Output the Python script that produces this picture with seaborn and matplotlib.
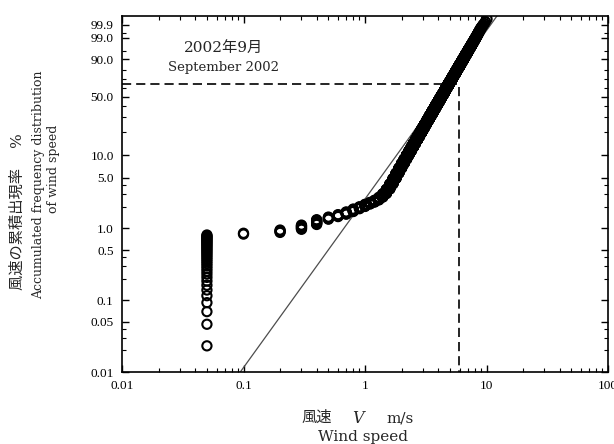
import numpy as np
import pandas as pd
import matplotlib
matplotlib.use("Agg")
import matplotlib.pyplot as plt
import matplotlib.ticker as mticker
import seaborn as sns

# 10分平均風速 2002年9月 : 風速階級ごとの出現回数
calm_speed = 0.05
calm_count = 35
bin_speeds = np.round(np.arange(1, 102) * 0.1, 1)   # 0.1 ... 10.1 m/s
bin_counts = [
    2, 4, 7, 9, 5, 5, 6, 7, 6, 7,            # 0.1 - 1.0
    6, 7, 10, 14, 20, 27, 33, 38, 42, 45,    # 1.1 - 2.0
    48, 53, 56, 60, 64, 68, 71, 75, 79, 82,  # 2.1 - 3.0
    85, 88, 91, 93, 95, 97, 99, 101, 101, 102,   # 3.1 - 4.0
    103, 102, 102, 102, 101, 100, 98, 96, 94, 92,  # 4.1 - 5.0
    90, 87, 84, 80, 77, 75, 71, 67, 63, 60,  # 5.1 - 6.0
    57, 53, 49, 46, 43, 40, 36, 33, 31, 28,  # 6.1 - 7.0
    25, 23, 21, 18, 16, 15, 13, 12, 10, 9,   # 7.1 - 8.0
    8, 7, 6, 5, 5, 4, 3, 3, 2, 2,            # 8.1 - 9.0
    1, 1, 1, 1, 0, 1, 0, 1, 0, 0,            # 9.1 - 10.0
    1,                                       # 10.1
]

# ワイブル近似直線
fit_k = 2.35
fit_c = 4.74

# 破線の位置
mark_speed = 5.9
mark_percent = 65.0

y_ticks = [0.01, 0.05, 0.1, 0.5, 1.0, 5.0, 10.0, 50.0, 90.0, 99.0, 99.9]
y_labels = ["0.01", "0.05", "0.1", "0.5", "1.0", "5.0", "10.0", "50.0", "90.0", "99.0", "99.9"]
y_minor = [0.02, 0.03, 0.04, 0.2, 0.3, 0.4, 2, 3, 4, 20, 30, 40, 60, 70, 80, 95, 99.5]
x_ticks = [0.01, 0.1, 1, 10, 100]
x_labels = ["0.01", "0.1", "1", "10", "100"]


def weib(p):
    p = np.clip(np.asarray(p, dtype=float) / 100.0, 1e-12, 1 - 1e-15)
    return np.log(-np.log1p(-p))


def weib_inv(w):
    return 100.0 * (-np.expm1(-np.exp(w)))


#%% データ整理: 順位から累積出現率
speeds = np.repeat(np.r_[calm_speed, bin_speeds], np.r_[calm_count, bin_counts])
speeds = np.sort(speeds)
n = len(speeds)
df = pd.DataFrame({"V": speeds, "F": np.arange(1, n + 1) / (n + 1) * 100})

fit_v = np.array([0.05, 15.0])
fit = pd.DataFrame({"V": fit_v, "F": 100 * (1 - np.exp(-(fit_v / fit_c) ** fit_k))})

#%% グラフ
sns.set_theme(style="ticks")
plt.rcParams["font.family"] = ["Liberation Serif", "Noto Sans CJK JP"]
plt.rcParams["axes.unicode_minus"] = False
lab_font = ["DejaVu Serif", "Noto Sans CJK JP"]

fig = plt.figure(figsize=(6.14, 4.44), dpi=100)
ax = fig.add_axes([122 / 614, 1 - 372 / 444, (608 - 122) / 614, (372 - 16) / 444])
ax.set_xscale("log")
ax.set_yscale("function", functions=(weib, weib_inv))

sns.lineplot(data=fit, x="V", y="F", ax=ax, color="0.3", linewidth=0.9, sort=False)
sns.scatterplot(data=df, x="V", y="F", ax=ax, marker="o", s=44,
                facecolor="none", edgecolor="black", linewidth=1.5, legend=False, zorder=3)
ax.plot([0.01, mark_speed, mark_speed], [mark_percent, mark_percent, 0.01],
        color="black", linewidth=1.2, linestyle=(0, (5.5, 3)), zorder=4)

ax.set_xlim(0.01, 100)
ax.set_ylim(0.01, 99.99)
ax.xaxis.set_major_locator(mticker.FixedLocator(x_ticks))
ax.xaxis.set_major_formatter(mticker.FixedFormatter(x_labels))
ax.xaxis.set_minor_locator(mticker.LogLocator(base=10, subs=np.arange(2, 10)))
ax.xaxis.set_minor_formatter(mticker.NullFormatter())
ax.yaxis.set_major_locator(mticker.FixedLocator(y_ticks))
ax.yaxis.set_major_formatter(mticker.FixedFormatter(y_labels))
ax.yaxis.set_minor_locator(mticker.FixedLocator(y_minor))
ax.yaxis.set_minor_formatter(mticker.NullFormatter())

ax.tick_params(which="both", direction="in", top=True, right=True, color="black")
ax.tick_params(which="major", length=5, width=1.0, labelsize=9.5, pad=6, labelcolor="black")
ax.tick_params(which="minor", length=3, width=0.8)
for sp in ax.spines.values():
    sp.set_linewidth(1.2)
    sp.set_color("black")
ax.set_xlabel("")
ax.set_ylabel("")

fig.text(224 / 614, 1 - 48 / 444, "2002年9月", fontsize=11, family=lab_font, ha="center", va="center")
fig.text(224 / 614, 1 - 68 / 444, "September 2002", fontsize=9.5, family=lab_font, ha="center", va="center")

# 縦軸ラベル
fig.text(18 / 614, 1 - 212 / 444, "風速の累積出現率　 %", rotation=90, fontsize=11,
         family=lab_font, ha="center", va="center")
fig.text(39 / 614, 1 - 185 / 444, "Accumulated frequency distribution", rotation=90,
         fontsize=9, family=lab_font, ha="center", va="center")
fig.text(54 / 614, 1 - 169 / 444, "of wind speed", rotation=90,
         fontsize=9, family=lab_font, ha="center", va="center")

# 横軸ラベル
fig.text(317 / 614, 1 - 418 / 444, "風速", fontsize=11, family=lab_font, ha="center", va="center")
fig.text(358 / 614, 1 - 418 / 444, "V", fontsize=11.5, family="DejaVu Serif", style="italic",
         ha="center", va="center")
fig.text(400 / 614, 1 - 418 / 444, "m/s", fontsize=11, family=lab_font, ha="center", va="center")
fig.text(363 / 614, 1 - 437 / 444, "Wind speed", fontsize=11, family=lab_font, ha="center", va="center")

fig.savefig("out.png", dpi=100)
